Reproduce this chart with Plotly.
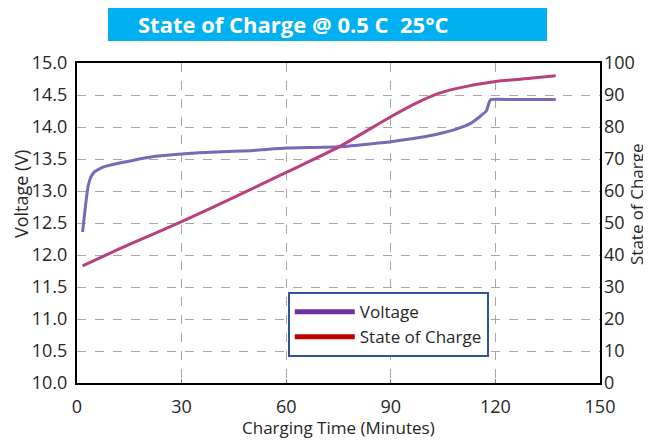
import plotly.graph_objects as go

# Voltage curve (minutes, volts)
v_time = [1.6, 2.5, 3.2, 4.0, 5.0, 7.3, 12.6, 22, 30, 40, 50, 60, 75, 90, 100, 105, 110, 113, 115.5, 117.4, 118.3, 118.8, 125, 137.3]
v_volt = [12.36, 12.8, 13.08, 13.22, 13.3, 13.37, 13.44, 13.54, 13.58, 13.61, 13.63, 13.67, 13.69, 13.77, 13.85, 13.91, 13.99, 14.06, 14.16, 14.25, 14.40, 14.43, 14.43, 14.43]

# State of charge curve (minutes, %)
s_time = [1.6, 15, 30, 45, 60, 75, 90, 97, 103.7, 110, 120, 130, 137.3]
s_soc = [36.6, 43.3, 50.4, 58.0, 65.8, 73.7, 83.2, 87.3, 90.5, 92.3, 94.2, 95.2, 96.0]

x_ticks = [0, 30, 60, 90, 120, 150]
y_ticks = [10.0, 10.5, 11.0, 11.5, 12.0, 12.5, 13.0, 13.5, 14.0, 14.5, 15.0]
y2_ticks = [0, 10, 20, 30, 40, 50, 60, 70, 80, 90, 100]

FONT = "Open Sans"
TXT = "#262626"
fig = go.Figure()
fig.add_trace(go.Scatter(x=v_time, y=v_volt, mode="lines", line=dict(color="#7B68B6", width=3, shape="spline", smoothing=0.4),
                         showlegend=False, hoverinfo="skip"))
fig.add_trace(go.Scatter(x=s_time, y=s_soc, mode="lines", yaxis="y2", line=dict(color="#B8407F", width=3, shape="spline", smoothing=0.6),
                         showlegend=False, hoverinfo="skip"))
# legend entries
fig.add_trace(go.Scatter(x=[None], y=[None], mode="lines", name="Voltage", line=dict(color="#7030A0", width=5)))
fig.add_trace(go.Scatter(x=[None], y=[None], mode="lines", name="State of Charge", line=dict(color="#C00000", width=5)))

px = lambda p: (p - 77) / 523
py = lambda p: (383 - p) / 320

fig.update_layout(
    width=643, height=432,
    margin=dict(l=69, r=51, t=55, b=57),
    paper_bgcolor="white", plot_bgcolor="white",
    font=dict(family=FONT, color=TXT, size=15),
    xaxis=dict(range=[0, 150], tickvals=x_ticks, showgrid=True, gridcolor="#A6A6A6", griddash="dash", gridwidth=1,
               showline=True, linecolor="black", linewidth=2, mirror=True, ticks="inside", ticklen=4, tickcolor="#808080",
               tickfont=dict(size=18), zeroline=False, automargin=False, ticklabelstandoff=6),
    yaxis=dict(range=[10, 15], tickvals=y_ticks, tickformat=".1f", showgrid=True, gridcolor="#A6A6A6", griddash="dash",
               showline=True, linecolor="black", linewidth=2, mirror=True, ticks="", zeroline=False, automargin=False,
               tickfont=dict(size=18), ticklabelstandoff=4),
    yaxis2=dict(range=[0, 100], tickvals=y2_ticks, overlaying="y", side="right", showgrid=False, zeroline=False,
                showline=False, ticks="", tickfont=dict(size=18), automargin=False, ticklabelstandoff=3),
    legend=dict(x=0.403, y=0.284, xanchor="left", yanchor="top", bgcolor="white", bordercolor="#2F5597", borderwidth=2,
                font=dict(size=17, color=TXT), itemwidth=60, tracegroupgap=0),
    shapes=[dict(type="rect", xref="paper", yref="paper", x0=px(108), x1=px(547),
                 y0=py(41), y1=py(7), fillcolor="#00B0F0", line=dict(width=0), layer="above")],
    annotations=[
        dict(text="<b>State of Charge @ 0.5 C  25°C</b>", xref="paper", yref="paper",
             x=px(136), y=py(24), xanchor="left", yanchor="middle", showarrow=False,
             font=dict(family=FONT, size=22, color="white")),
        dict(text="Voltage (V)", xref="paper", yref="paper", x=px(21), y=py(194), textangle=-90,
             xanchor="center", yanchor="middle", showarrow=False, font=dict(size=18, color=TXT)),
        dict(text="State of Charge", xref="paper", yref="paper", x=px(636), y=py(204), textangle=-90,
             xanchor="center", yanchor="middle", showarrow=False, font=dict(size=17, color=TXT)),
        dict(text="Charging Time (Minutes)", xref="paper", yref="paper", x=px(338), y=py(427),
             xanchor="center", yanchor="middle", showarrow=False, font=dict(size=17, color=TXT)),
    ],
)

fig.write_html("out.html")
